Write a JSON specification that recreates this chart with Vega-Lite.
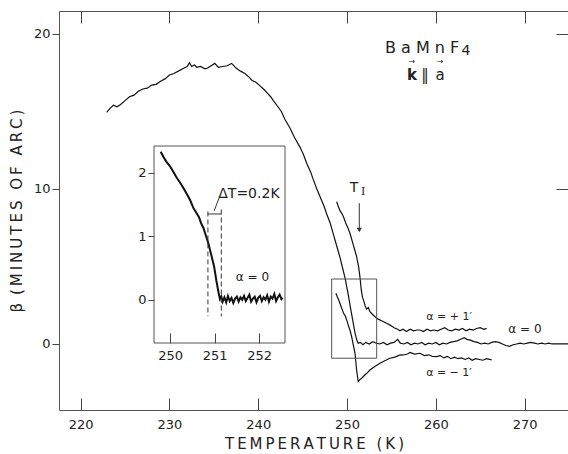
{
 "$schema": "https://vega.github.io/schema/vega-lite/v6.json",
 "width": 510,
 "height": 399,
 "autosize": {"type": "none"},
 "padding": {"left": 59, "top": 11, "right": 0, "bottom": 44},
 "background": "white",
 "config": {
  "view": {"stroke": "#555", "strokeWidth": 1},
  "font": "DejaVu Sans",
  "axis": {"grid": false, "domain": false, "labelFont": "DejaVu Sans", "labelFontSize": 13, "labelColor": "#222", "tickColor": "#444", "tickWidth": 1, "titleFont": "DejaVu Sans", "titleFontWeight": "normal", "titleColor": "#222"},
  "text": {"font": "DejaVu Sans", "color": "#222"}
 },
 "datasets": {
  "main": [
   {"s":"a0","T":222.93,"b":14.94},{"s":"a0","T":223.3,"b":15.2},{"s":"a0","T":223.7,"b":15.4},{"s":"a0","T":224.1,"b":15.3},{"s":"a0","T":224.5,"b":15.45},{"s":"a0","T":225.0,"b":15.7},{"s":"a0","T":225.5,"b":15.95},{"s":"a0","T":226.0,"b":16.05},{"s":"a0","T":226.5,"b":16.3},{"s":"a0","T":227.0,"b":16.45},{"s":"a0","T":227.5,"b":16.5},{"s":"a0","T":228.0,"b":16.7},{"s":"a0","T":228.5,"b":16.75},{"s":"a0","T":229.0,"b":16.95},{"s":"a0","T":229.5,"b":17.1},{"s":"a0","T":230.0,"b":17.35},{"s":"a0","T":230.5,"b":17.45},{"s":"a0","T":231.0,"b":17.6},{"s":"a0","T":231.5,"b":17.75},{"s":"a0","T":232.0,"b":17.9},{"s":"a0","T":232.25,"b":18.15},{"s":"a0","T":232.5,"b":17.9},{"s":"a0","T":232.8,"b":18.0},{"s":"a0","T":233.1,"b":17.85},{"s":"a0","T":233.5,"b":17.9},{"s":"a0","T":234.0,"b":17.75},{"s":"a0","T":234.3,"b":17.8},{"s":"a0","T":234.7,"b":17.95},{"s":"a0","T":235.1,"b":18.1},{"s":"a0","T":235.5,"b":17.85},{"s":"a0","T":236.0,"b":17.9},{"s":"a0","T":236.5,"b":17.95},{"s":"a0","T":237.0,"b":18.1},{"s":"a0","T":237.5,"b":17.8},{"s":"a0","T":238.0,"b":17.6},{"s":"a0","T":238.5,"b":17.45},{"s":"a0","T":239.0,"b":17.2},{"s":"a0","T":239.3,"b":17.0},{"s":"a0","T":239.7,"b":16.9},{"s":"a0","T":240.2,"b":16.65},{"s":"a0","T":240.6,"b":16.45},{"s":"a0","T":241.0,"b":16.2},{"s":"a0","T":241.4,"b":15.95},{"s":"a0","T":241.7,"b":15.7},{"s":"a0","T":242.1,"b":15.4},{"s":"a0","T":242.6,"b":15.0},{"s":"a0","T":243.0,"b":14.5},{"s":"a0","T":243.6,"b":13.9},{"s":"a0","T":244.1,"b":13.3},{"s":"a0","T":244.7,"b":12.7},{"s":"a0","T":245.1,"b":12.2},{"s":"a0","T":245.5,"b":11.6},{"s":"a0","T":245.9,"b":11.1},{"s":"a0","T":246.2,"b":10.6},{"s":"a0","T":246.6,"b":10.0},{"s":"a0","T":247.0,"b":9.45},{"s":"a0","T":247.4,"b":8.9},{"s":"a0","T":247.7,"b":8.4},{"s":"a0","T":248.1,"b":7.8},{"s":"a0","T":248.45,"b":7.1},{"s":"a0","T":248.8,"b":6.4},{"s":"a0","T":249.2,"b":5.6},{"s":"a0","T":249.5,"b":4.9},{"s":"a0","T":249.8,"b":4.2},{"s":"a0","T":250.1,"b":3.3},{"s":"a0","T":250.4,"b":2.3},{"s":"a0","T":250.7,"b":1.35},{"s":"a0","T":250.9,"b":0.7},{"s":"a0","T":251.1,"b":0.25},{"s":"a0","T":251.26,"b":0.05},{"s":"a0","T":251.5,"b":0.1},{"s":"a0","T":251.8,"b":-0.05},{"s":"a0","T":252.1,"b":0.1},{"s":"a0","T":252.5,"b":0.0},{"s":"a0","T":252.9,"b":0.15},{"s":"a0","T":253.3,"b":0.05},{"s":"a0","T":253.7,"b":0.0},{"s":"a0","T":254.1,"b":0.1},{"s":"a0","T":254.5,"b":-0.05},{"s":"a0","T":254.9,"b":0.05},{"s":"a0","T":255.3,"b":0.1},{"s":"a0","T":255.7,"b":0.3},{"s":"a0","T":256.0,"b":0.05},{"s":"a0","T":256.4,"b":0.0},{"s":"a0","T":256.8,"b":0.1},{"s":"a0","T":257.2,"b":-0.05},{"s":"a0","T":257.6,"b":0.05},{"s":"a0","T":258.0,"b":0.0},{"s":"a0","T":258.4,"b":0.1},{"s":"a0","T":258.8,"b":-0.05},{"s":"a0","T":259.2,"b":0.05},{"s":"a0","T":259.6,"b":0.0},{"s":"a0","T":260.0,"b":0.1},{"s":"a0","T":260.4,"b":-0.05},{"s":"a0","T":260.8,"b":0.05},{"s":"a0","T":261.2,"b":0.0},{"s":"a0","T":261.6,"b":0.1},{"s":"a0","T":262.0,"b":0.15},{"s":"a0","T":262.4,"b":0.2},{"s":"a0","T":262.8,"b":0.3},{"s":"a0","T":263.2,"b":0.4},{"s":"a0","T":263.5,"b":0.3},{"s":"a0","T":263.9,"b":0.25},{"s":"a0","T":264.3,"b":0.15},{"s":"a0","T":264.7,"b":0.1},{"s":"a0","T":265.1,"b":0.0},{"s":"a0","T":265.5,"b":0.05},{"s":"a0","T":265.9,"b":0.0},{"s":"a0","T":266.3,"b":0.1},{"s":"a0","T":266.7,"b":0.15},{"s":"a0","T":267.1,"b":0.1},{"s":"a0","T":267.5,"b":0.0},{"s":"a0","T":267.9,"b":-0.1},{"s":"a0","T":268.3,"b":-0.15},{"s":"a0","T":268.7,"b":-0.05},{"s":"a0","T":269.1,"b":0.0},{"s":"a0","T":269.5,"b":0.05},{"s":"a0","T":269.9,"b":0.0},{"s":"a0","T":270.3,"b":0.05},{"s":"a0","T":270.7,"b":0.1},{"s":"a0","T":271.1,"b":0.05},{"s":"a0","T":271.5,"b":0.0},{"s":"a0","T":271.9,"b":0.05},{"s":"a0","T":272.3,"b":0.0},{"s":"a0","T":272.7,"b":0.05},{"s":"a0","T":273.1,"b":0.0},{"s":"a0","T":273.5,"b":0.0},{"s":"a0","T":274.0,"b":0.0},{"s":"a0","T":274.5,"b":0.0},{"s":"a0","T":275.0,"b":0.0},
   {"s":"ap","T":248.83,"b":9.18},{"s":"ap","T":249.0,"b":8.9},{"s":"ap","T":249.2,"b":8.6},{"s":"ap","T":249.4,"b":8.43},{"s":"ap","T":249.6,"b":8.2},{"s":"ap","T":249.85,"b":7.8},{"s":"ap","T":250.1,"b":7.5},{"s":"ap","T":250.33,"b":7.14},{"s":"ap","T":250.6,"b":6.6},{"s":"ap","T":250.85,"b":6.1},{"s":"ap","T":251.08,"b":5.63},{"s":"ap","T":251.3,"b":5.0},{"s":"ap","T":251.46,"b":4.3},{"s":"ap","T":251.6,"b":3.5},{"s":"ap","T":251.75,"b":3.0},{"s":"ap","T":251.9,"b":2.75},{"s":"ap","T":252.05,"b":2.45},{"s":"ap","T":252.2,"b":2.25},{"s":"ap","T":252.4,"b":2.35},{"s":"ap","T":252.58,"b":2.08},{"s":"ap","T":252.8,"b":1.95},{"s":"ap","T":253.15,"b":1.76},{"s":"ap","T":253.5,"b":1.6},{"s":"ap","T":253.9,"b":1.5},{"s":"ap","T":254.46,"b":1.34},{"s":"ap","T":254.9,"b":1.2},{"s":"ap","T":255.3,"b":1.05},{"s":"ap","T":255.7,"b":0.95},{"s":"ap","T":255.96,"b":0.85},{"s":"ap","T":256.3,"b":0.95},{"s":"ap","T":256.7,"b":0.8},{"s":"ap","T":257.1,"b":0.95},{"s":"ap","T":257.5,"b":0.85},{"s":"ap","T":257.9,"b":0.9},{"s":"ap","T":258.21,"b":0.9},{"s":"ap","T":258.6,"b":0.8},{"s":"ap","T":259.0,"b":0.95},{"s":"ap","T":259.4,"b":0.85},{"s":"ap","T":259.8,"b":0.9},{"s":"ap","T":260.2,"b":0.85},{"s":"ap","T":260.6,"b":0.95},{"s":"ap","T":261.0,"b":1.05},{"s":"ap","T":261.4,"b":0.9},{"s":"ap","T":261.8,"b":0.85},{"s":"ap","T":262.2,"b":0.95},{"s":"ap","T":262.6,"b":0.9},{"s":"ap","T":263.0,"b":1.0},{"s":"ap","T":263.4,"b":0.85},{"s":"ap","T":263.8,"b":0.95},{"s":"ap","T":264.2,"b":0.9},{"s":"ap","T":264.6,"b":1.0},{"s":"ap","T":265.0,"b":1.05},{"s":"ap","T":265.4,"b":0.95},{"s":"ap","T":265.73,"b":1.01},
   {"s":"am","T":248.75,"b":3.27},{"s":"am","T":248.9,"b":3.05},{"s":"am","T":249.05,"b":2.85},{"s":"am","T":249.2,"b":2.63},{"s":"am","T":249.4,"b":2.3},{"s":"am","T":249.6,"b":2.0},{"s":"am","T":249.8,"b":1.8},{"s":"am","T":249.96,"b":1.55},{"s":"am","T":250.15,"b":1.2},{"s":"am","T":250.35,"b":0.85},{"s":"am","T":250.52,"b":0.47},{"s":"am","T":250.7,"b":-0.05},{"s":"am","T":250.9,"b":-0.6},{"s":"am","T":251.0,"b":-1.2},{"s":"am","T":251.08,"b":-1.68},{"s":"am","T":251.18,"b":-2.1},{"s":"am","T":251.26,"b":-2.43},{"s":"am","T":251.45,"b":-2.3},{"s":"am","T":251.65,"b":-2.21},{"s":"am","T":252.0,"b":-2.0},{"s":"am","T":252.3,"b":-1.85},{"s":"am","T":252.58,"b":-1.68},{"s":"am","T":253.0,"b":-1.5},{"s":"am","T":253.4,"b":-1.35},{"s":"am","T":253.71,"b":-1.25},{"s":"am","T":254.2,"b":-1.1},{"s":"am","T":254.83,"b":-0.92},{"s":"am","T":255.4,"b":-0.85},{"s":"am","T":255.9,"b":-0.72},{"s":"am","T":256.33,"b":-0.71},{"s":"am","T":256.8,"b":-0.65},{"s":"am","T":257.1,"b":-0.55},{"s":"am","T":257.6,"b":-0.65},{"s":"am","T":258.21,"b":-0.6},{"s":"am","T":258.7,"b":-0.75},{"s":"am","T":259.2,"b":-0.7},{"s":"am","T":259.6,"b":-0.8},{"s":"am","T":260.09,"b":-0.82},{"s":"am","T":260.5,"b":-0.75},{"s":"am","T":260.9,"b":-0.9},{"s":"am","T":261.3,"b":-0.8},{"s":"am","T":261.7,"b":-0.95},{"s":"am","T":262.1,"b":-0.85},{"s":"am","T":262.5,"b":-0.95},{"s":"am","T":262.9,"b":-0.9},{"s":"am","T":263.3,"b":-1.0},{"s":"am","T":263.7,"b":-0.9},{"s":"am","T":264.1,"b":-1.05},{"s":"am","T":264.5,"b":-0.95},{"s":"am","T":264.9,"b":-1.0},{"s":"am","T":265.3,"b":-1.05},{"s":"am","T":265.7,"b":-0.95},{"s":"am","T":266.29,"b":-1.03}
  ],
  "inset": [
   {"T":249.79,"b":2.33},{"T":249.85,"b":2.25},{"T":249.92,"b":2.17},{"T":250.0,"b":2.1},{"T":250.07,"b":2.02},{"T":250.15,"b":1.92},{"T":250.22,"b":1.85},{"T":250.3,"b":1.76},{"T":250.38,"b":1.66},{"T":250.45,"b":1.57},{"T":250.52,"b":1.45},{"T":250.58,"b":1.38},{"T":250.65,"b":1.3},{"T":250.7,"b":1.2},{"T":250.75,"b":1.13},{"T":250.8,"b":1.02},{"T":250.86,"b":0.89},{"T":250.92,"b":0.72},{"T":250.99,"b":0.52},{"T":251.04,"b":0.3},{"T":251.09,"b":0.11},{"T":251.12,"b":0.01},{"T":251.15,"b":0.05},{"T":251.18,"b":-0.03},{"T":251.22,"b":0.04},{"T":251.26,"b":-0.04},{"T":251.3,"b":0.06},{"T":251.34,"b":-0.02},{"T":251.38,"b":0.03},{"T":251.42,"b":-0.05},{"T":251.46,"b":0.02},{"T":251.5,"b":0.05},{"T":251.54,"b":-0.03},{"T":251.58,"b":0.04},{"T":251.62,"b":0.0},{"T":251.66,"b":0.06},{"T":251.7,"b":-0.02},{"T":251.74,"b":0.03},{"T":251.78,"b":0.08},{"T":251.82,"b":-0.03},{"T":251.86,"b":0.02},{"T":251.9,"b":0.05},{"T":251.94,"b":-0.04},{"T":251.98,"b":0.03},{"T":252.02,"b":0.06},{"T":252.06,"b":-0.02},{"T":252.1,"b":0.04},{"T":252.14,"b":0.0},{"T":252.18,"b":0.07},{"T":252.22,"b":-0.03},{"T":252.26,"b":0.05},{"T":252.3,"b":0.02},{"T":252.34,"b":0.09},{"T":252.38,"b":-0.02},{"T":252.42,"b":0.04},{"T":252.46,"b":0.08},{"T":252.5,"b":0.01},{"T":252.53,"b":0.03}
  ]
 },
 "layer": [
  {
   "layer": [
    {
     "data": {"name": "main"},
     "mark": {"type": "line", "color": "#111", "strokeWidth": 1.2},
     "encoding": {
      "x": {"field": "T", "type": "quantitative", "scale": {"domain": [217.56, 275.0], "nice": false, "zero": false},
            "axis": {"orient": "bottom", "values": [220, 230, 240, 250, 260, 270], "ticks": false, "labelPadding": 8, "title": "T\u2009E\u2009M\u2009P\u2009E\u2009R\u2009A\u2009T\u2009U\u2009R\u2009E\u2009 \u2009(\u2009K\u2009)", "titleFontSize": 15, "titlePadding": 5}},
      "y": {"field": "b", "type": "quantitative", "scale": {"domain": [-4.26, 21.48], "nice": false, "zero": false},
            "axis": {"orient": "left", "values": [0, 10, 20], "tickSize": 7, "labelPadding": 2, "title": "β\u2009 (\u2009M\u2009I\u2009N\u2009U\u2009T\u2009E\u2009S\u2009 \u2009O\u2009F\u2009 \u2009A\u2009R\u2009C\u2009)", "titleFontSize": 15, "titlePadding": 9}},
      "detail": {"field": "s"}
     }
    },
    {
     "data": {"name": "main"},
     "mark": {"type": "point", "opacity": 0},
     "encoding": {
      "x": {"field": "T", "type": "quantitative", "scale": {"domain": [217.56, 275.0], "nice": false, "zero": false},
            "axis": {"orient": "bottom", "offset": -12, "tickSize": 12, "labels": false, "values": [220, 230, 240, 250, 260, 270], "title": null}},
      "y": {"field": "b", "type": "quantitative", "scale": {"domain": [-4.26, 21.48], "nice": false, "zero": false},
            "axis": {"orient": "right", "offset": -13, "tickSize": 13, "labels": false, "values": [10, 20], "title": null}}
     }
    },
    {
     "data": {"name": "main"},
     "mark": {"type": "point", "opacity": 0},
     "encoding": {
      "x": {"field": "T", "type": "quantitative", "scale": {"domain": [217.56, 275.0], "nice": false, "zero": false},
            "axis": {"orient": "top", "offset": -12, "tickSize": 12, "labels": false, "values": [220, 230, 240, 250, 260, 270], "title": null}},
      "y": {"field": "b", "type": "quantitative", "axis": null}
     }
    },
    {
     "data": {"values": [{}]},
     "mark": {"type": "rect", "fillOpacity": 0, "stroke": "#555", "strokeWidth": 1},
     "encoding": {
      "x": {"datum": 248.27, "type": "quantitative", "axis": null},
      "x2": {"datum": 253.34},
      "y": {"datum": -0.92, "type": "quantitative", "axis": null},
      "y2": {"datum": 4.19}
     }
    },
    {
     "data": {"values": [{}]},
     "mark": {"type": "rule", "color": "#333", "strokeWidth": 1},
     "encoding": {
      "x": {"datum": 251.38, "type": "quantitative", "axis": null},
      "y": {"datum": 9.08, "type": "quantitative", "axis": null},
      "y2": {"datum": 7.4}
     }
    },
    {
     "data": {"values": [{}]},
     "mark": {"type": "point", "shape": "triangle-down", "filled": true, "color": "#333", "size": 28, "opacity": 1},
     "encoding": {
      "x": {"datum": 251.38, "type": "quantitative", "axis": null},
      "y": {"datum": 7.35, "type": "quantitative", "axis": null}
     }
    },
    {
     "data": {"values": [{}]},
     "mark": {"type": "text", "text": "B a M n F", "fontSize": 16, "align": "left", "baseline": "alphabetic"},
     "encoding": {"x": {"datum": 254.27, "type": "quantitative", "axis": null}, "y": {"datum": 18.8, "type": "quantitative", "axis": null}}
    },
    {
     "data": {"values": [{}]},
     "mark": {"type": "text", "text": "4", "fontSize": 14, "align": "left", "baseline": "alphabetic"},
     "encoding": {"x": {"datum": 262.9, "type": "quantitative", "axis": null}, "y": {"datum": 18.65, "type": "quantitative", "axis": null}}
    },
    {
     "data": {"values": [{}]},
     "mark": {"type": "text", "text": "k", "fontSize": 15, "fontWeight": "bold", "align": "center", "baseline": "alphabetic"},
     "encoding": {"x": {"datum": 257.31, "type": "quantitative", "axis": null}, "y": {"datum": 17.03, "type": "quantitative", "axis": null}}
    },
    {
     "data": {"values": [{}]},
     "mark": {"type": "text", "text": "→", "fontSize": 8, "align": "center", "baseline": "middle"},
     "encoding": {"x": {"datum": 257.31, "type": "quantitative", "axis": null}, "y": {"datum": 18.22, "type": "quantitative", "axis": null}}
    },
    {
     "data": {"values": [{}]},
     "mark": {"type": "text", "text": "‖", "fontSize": 15, "align": "center", "baseline": "alphabetic"},
     "encoding": {"x": {"datum": 258.78, "type": "quantitative", "axis": null}, "y": {"datum": 17.03, "type": "quantitative", "axis": null}}
    },
    {
     "data": {"values": [{}]},
     "mark": {"type": "text", "text": "a", "fontSize": 15, "align": "center", "baseline": "alphabetic"},
     "encoding": {"x": {"datum": 260.47, "type": "quantitative", "axis": null}, "y": {"datum": 17.03, "type": "quantitative", "axis": null}}
    },
    {
     "data": {"values": [{}]},
     "mark": {"type": "text", "text": "→", "fontSize": 8, "align": "center", "baseline": "middle"},
     "encoding": {"x": {"datum": 260.47, "type": "quantitative", "axis": null}, "y": {"datum": 18.22, "type": "quantitative", "axis": null}}
    },
    {
     "data": {"values": [{}]},
     "mark": {"type": "text", "text": "T", "fontSize": 14, "align": "center", "baseline": "alphabetic"},
     "encoding": {"x": {"datum": 250.78, "type": "quantitative", "axis": null}, "y": {"datum": 9.83, "type": "quantitative", "axis": null}}
    },
    {
     "data": {"values": [{}]},
     "mark": {"type": "text", "text": "I", "font": "DejaVu Serif", "fontSize": 11, "align": "center", "baseline": "alphabetic"},
     "encoding": {"x": {"datum": 251.83, "type": "quantitative", "axis": null}, "y": {"datum": 9.6, "type": "quantitative", "axis": null}}
    },
    {
     "data": {"values": [{}]},
     "mark": {"type": "text", "text": "α = + 1′", "fontSize": 11, "align": "center", "baseline": "alphabetic"},
     "encoding": {"x": {"datum": 261.5, "type": "quantitative", "axis": null}, "y": {"datum": 1.55, "type": "quantitative", "axis": null}}
    },
    {
     "data": {"values": [{}]},
     "mark": {"type": "text", "text": "α = 0", "fontSize": 12, "align": "center", "baseline": "alphabetic"},
     "encoding": {"x": {"datum": 270.04, "type": "quantitative", "axis": null}, "y": {"datum": 0.71, "type": "quantitative", "axis": null}}
    },
    {
     "data": {"values": [{}]},
     "mark": {"type": "text", "text": "α = − 1′", "fontSize": 11, "align": "center", "baseline": "alphabetic"},
     "encoding": {"x": {"datum": 261.48, "type": "quantitative", "axis": null}, "y": {"datum": -2.06, "type": "quantitative", "axis": null}}
    }
   ],
   "resolve": {"axis": {"x": "independent", "y": "independent"}}
  },
  {
   "layer": [
    {
     "data": {"values": [{}]},
     "mark": {"type": "rect", "fillOpacity": 0, "stroke": "#555", "strokeWidth": 1},
     "encoding": {
      "x": {"datum": 249.64, "type": "quantitative", "scale": {"domain": [249.64, 252.58], "range": [95, 226], "nice": false, "zero": false}, "axis": null},
      "x2": {"datum": 252.58},
      "y": {"datum": -0.68, "type": "quantitative", "scale": {"domain": [-0.68, 2.42], "range": [332, 135], "nice": false, "zero": false}, "axis": null},
      "y2": {"datum": 2.42}
     }
    },
    {
     "data": {"name": "inset"},
     "mark": {"type": "line", "color": "#111", "strokeWidth": 2},
     "encoding": {
      "x": {"field": "T", "type": "quantitative", "scale": {"domain": [249.64, 252.58], "range": [95, 226], "nice": false, "zero": false},
            "axis": {"orient": "bottom", "offset": -67, "ticks": false, "labelPadding": 6, "values": [250, 251, 252], "title": null}},
      "y": {"field": "b", "type": "quantitative", "scale": {"domain": [-0.68, 2.42], "range": [332, 135], "nice": false, "zero": false},
            "axis": {"orient": "left", "offset": -95, "tickSize": 6, "labelPadding": 2, "values": [0, 1, 2], "title": null}}
     }
    },
    {
     "data": {"name": "inset"},
     "mark": {"type": "point", "opacity": 0},
     "encoding": {
      "x": {"field": "T", "type": "quantitative", "scale": {"domain": [249.64, 252.58], "range": [95, 226], "nice": false, "zero": false},
            "axis": {"orient": "bottom", "offset": -77, "tickSize": 10, "labels": false, "values": [250, 251, 252], "title": null}},
      "y": {"field": "b", "type": "quantitative", "axis": null}
     }
    },
    {
     "data": {"values": [{}]},
     "mark": {"type": "rule", "color": "#333", "strokeWidth": 1, "strokeDash": [5, 3]},
     "encoding": {"x": {"datum": 250.85, "type": "quantitative", "axis": null}, "y": {"datum": 1.39, "type": "quantitative", "axis": null}, "y2": {"datum": -0.26}}
    },
    {
     "data": {"values": [{}]},
     "mark": {"type": "rule", "color": "#333", "strokeWidth": 1, "strokeDash": [5, 3]},
     "encoding": {"x": {"datum": 251.15, "type": "quantitative", "axis": null}, "y": {"datum": 1.42, "type": "quantitative", "axis": null}, "y2": {"datum": -0.26}}
    },
    {
     "data": {"values": [{}]},
     "mark": {"type": "rule", "color": "#333", "strokeWidth": 1},
     "encoding": {"x": {"datum": 250.85, "type": "quantitative", "axis": null}, "x2": {"datum": 251.15}, "y": {"datum": 1.35, "type": "quantitative", "axis": null}}
    },
    {
     "data": {"values": [{}]},
     "mark": {"type": "rule", "color": "#333", "strokeWidth": 1},
     "encoding": {"x": {"datum": 251.1, "type": "quantitative", "axis": null}, "x2": {"datum": 250.99}, "y": {"datum": 1.6, "type": "quantitative", "axis": null}, "y2": {"datum": 1.4}}
    },
    {
     "data": {"values": [{}]},
     "mark": {"type": "text", "text": "ΔT=0.2K", "fontSize": 14, "align": "center", "baseline": "alphabetic"},
     "encoding": {"x": {"datum": 251.77, "type": "quantitative", "axis": null}, "y": {"datum": 1.6, "type": "quantitative", "axis": null}}
    },
    {
     "data": {"values": [{}]},
     "mark": {"type": "text", "text": "α = 0", "fontSize": 12, "align": "center", "baseline": "alphabetic"},
     "encoding": {"x": {"datum": 251.85, "type": "quantitative", "axis": null}, "y": {"datum": 0.29, "type": "quantitative", "axis": null}}
    }
   ],
   "resolve": {"axis": {"x": "independent", "y": "independent"}}
  }
 ],
 "resolve": {"scale": {"x": "independent", "y": "independent"}, "axis": {"x": "independent", "y": "independent"}}
}
